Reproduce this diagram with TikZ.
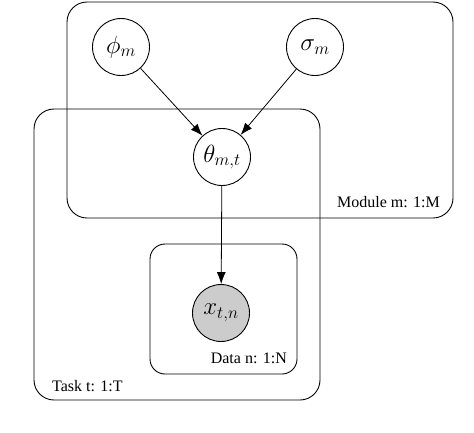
\documentclass[tikz,border=0pt]{standalone}
\usepackage{fontspec}
\setmainfont{Liberation Serif}
\usetikzlibrary{arrows.meta}
\DeclareMathSizes{26}{26}{18.5}{14}
\tikzset{
  plate/.style={draw, line width=0.9pt, rounded corners=#1},
  rv/.style={circle, draw, line width=0.9pt, minimum size=57pt, inner sep=0pt, font=\fontsize{26}{30}\selectfont},
  obs/.style={rv, fill=black!20},
  edge/.style={line width=0.8pt, -{Latex[length=12pt,width=9pt]}},
  platelabel/.style={font=\fontsize{16}{18}\selectfont, inner sep=0pt},
}
\begin{document}
\begin{tikzpicture}[x=1pt, y=-1pt]
\useasboundingbox (0,0) rectangle (474,432);
% plates
\draw[plate=20pt] (67,2) rectangle (453,218);
\draw[plate=20pt] (34,109) rectangle (320,400);
\draw[plate=15pt] (150,244) rectangle (297,374);
\node[platelabel, anchor=east] (lm) at (440,202) {Module m: 1:M};
\node[platelabel, anchor=east] (ld) at (287,358) {Data n: 1:N};
\node[platelabel, anchor=west] (lt) at (52,386) {Task t: 1:T};
% nodes
\node[rv] (phi) at (121,47) {$\phi_m$};
\node[rv] (sigma) at (315,47) {$\sigma_m$};
\node[rv] (theta) at (222,157) {$\theta_{m,t}$};
\node[obs] (x) at (221,313) {$x_{t,n}$};
% edges
\draw[edge] (phi) -- (theta);
\draw[edge] (sigma) -- (theta);
\draw[edge] (theta) -- (x);
% caption (cropped at the bottom edge, as in the reference)
\begin{scope}
\clip (0,0) rectangle (474,432);
\node[anchor=base west, inner sep=0pt, font=\fontsize{24}{28}\selectfont] (cap) at (-12,452) {\makebox[492pt][s]{Figure 3: Graphical representation of the}};
\end{scope}
\end{tikzpicture}
\end{document}
